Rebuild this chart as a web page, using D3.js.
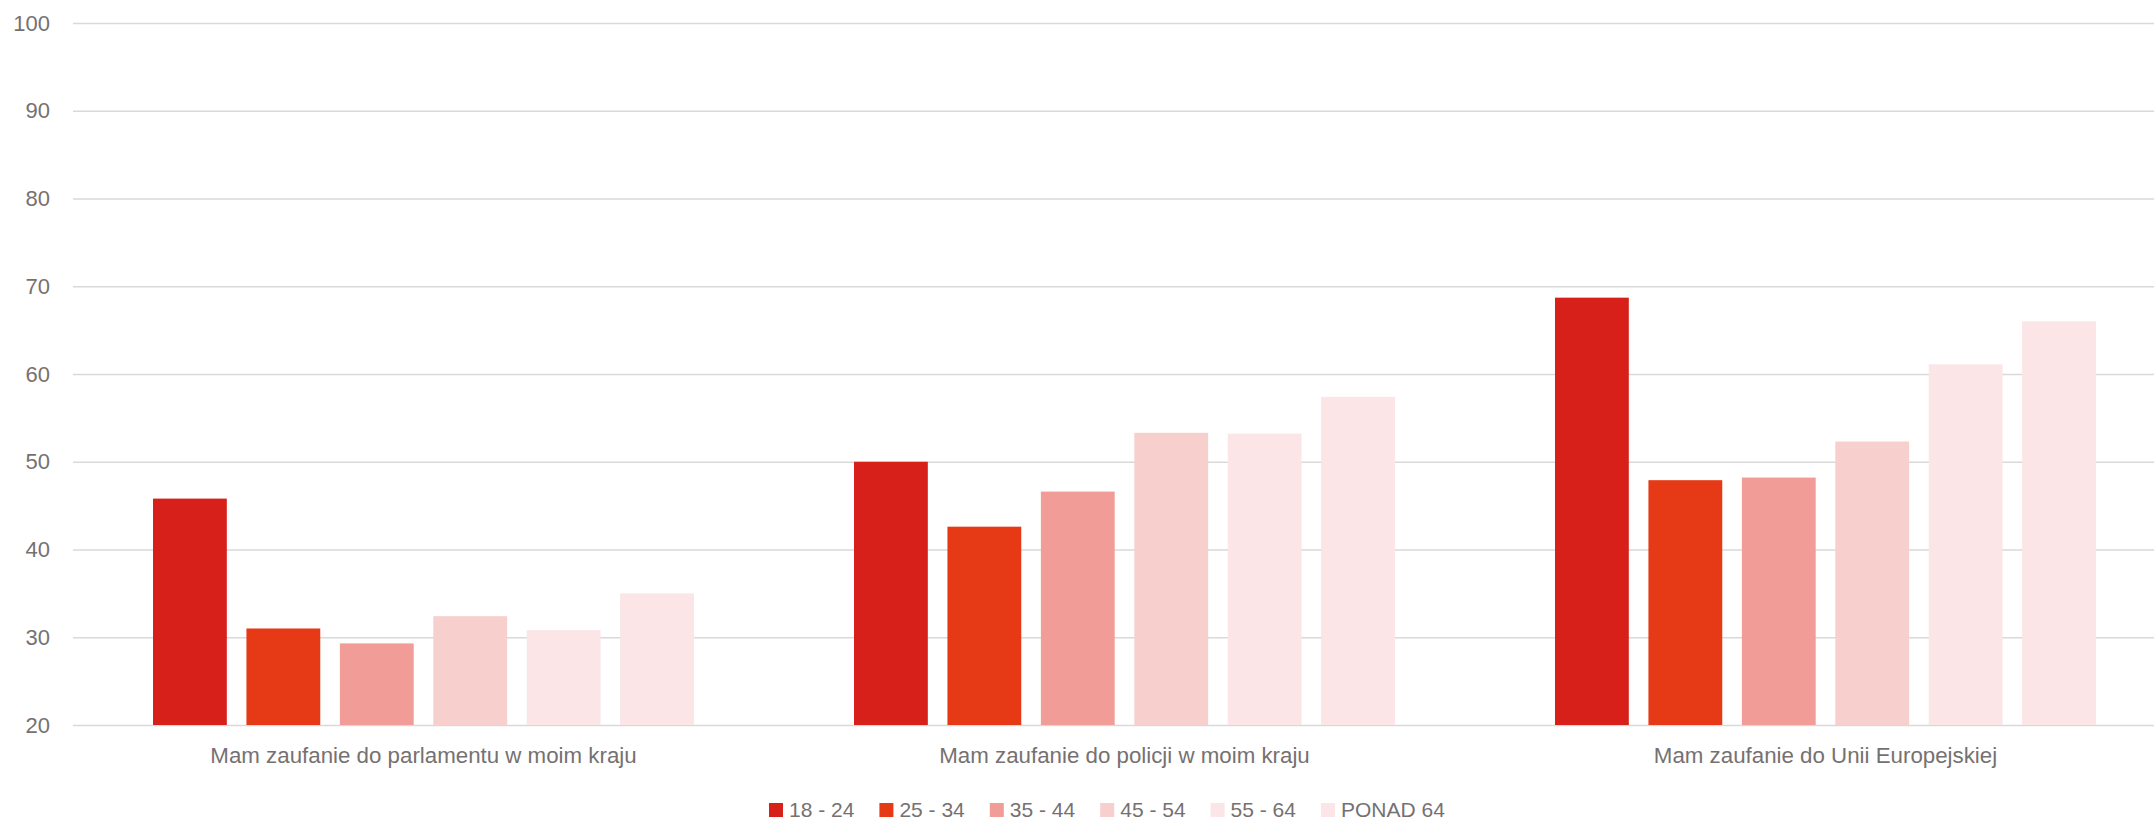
<!DOCTYPE html>
<html>
<head>
<meta charset="utf-8">
<script src="https://cdn.jsdelivr.net/npm/d3@7"></script>
<style>
  body { margin: 0; background: #fff; }
  text { font-family: "Liberation Sans", Arial, sans-serif; fill: #767171; }
</style>
</head>
<body>
<script>
var w = 2154;
var h = 821;

var categories = ["Mam zaufanie do parlamentu w moim kraju", "Mam zaufanie do policji w moim kraju", "Mam zaufanie do Unii Europejskiej"];
var seriesNames = ["18 - 24", "25 - 34", "35 - 44", "45 - 54", "55 - 64", "PONAD 64"];
var seriesColors = ["#d62019", "#e63a16", "#f29c97", "#f7cfcd", "#fbe5e6", "#fbe5e6"];

// one array per age group, values for the 3 categories
var v18_24 = [45.8, 50.0, 68.7];
var v25_34 = [31.0, 42.6, 47.9];
var v35_44 = [29.3, 46.6, 48.2];
var v45_54 = [32.4, 53.3, 52.3];
var v55_64 = [30.8, 53.2, 61.1];
var vPonad64 = [35.0, 57.4, 66.0];
var yTicks = [20, 30, 40, 50, 60, 70, 80, 90, 100];

var values = [v18_24, v25_34, v35_44, v45_54, v55_64, vPonad64];

var svg = d3.select("body").append("svg").attr("width", w).attr("height", h);

var x0 = d3.scaleBand()
            .domain(categories)
            .range([73, 2176])
            .padding(0);

var x1 = d3.scaleBand()
            .domain(d3.range(seriesNames.length))
            .range([80, x0.bandwidth() - 80])
            .paddingInner(0.21)
            .paddingOuter(0);

var yScale = d3.scaleLinear()
            .domain([20, 100])
            .range([725, 23]);

//gridlines + tick labels
var yAxis = d3.axisLeft(yScale)
            .tickValues(yTicks)
            .tickSize(-(w - 73))
            .tickPadding(23);

var gy = svg.append("g").attr("transform", "translate(73,0)").call(yAxis);
gy.select(".domain").remove();
gy.selectAll(".tick line").attr("stroke", "#d9d9d9").attr("stroke-width", 1.5);
gy.selectAll(".tick text").attr("font-size", "22px").attr("fill", "#767171");

//Drawing the bars
var groups = svg.selectAll("g.cat")
            .data(categories).enter()
            .append("g")
            .attr("class", "cat")
            .attr("transform", (d) => "translate(" + x0(d) + ",0)");

groups.selectAll("rect")
    .data((d, ci) => values.map((s, si) => ({ si: si, v: s[ci] })))
    .enter()
    .append("rect")
    .attr("x", (d) => x1(d.si))
    .attr("y", (d) => yScale(d.v))
    .attr("width", x1.bandwidth())
    .attr("height", (d) => yScale(20) - yScale(d.v))
    .attr("fill", (d) => seriesColors[d.si]);

//category labels
var xAxis = d3.axisBottom(x0).tickSize(0).tickPadding(22);
var gx = svg.append("g").attr("transform", "translate(0,725)").call(xAxis);
gx.select(".domain").remove();
gx.selectAll(".tick text").attr("font-size", "22.3px").attr("fill", "#767171");

//legend
var legend = svg.selectAll("g.legend")
    .data(seriesNames).enter()
    .append("g")
    .attr("class", "legend")
    .attr("transform", (d, i) => "translate(" + (769 + i * 110.4) + ",803)");

legend.append("rect")
    .attr("width", 14)
    .attr("height", 14)
    .attr("fill", (d, i) => seriesColors[i]);

legend.append("text")
    .attr("x", 20)
    .attr("y", 14)
    .attr("font-size", "21px")
    .text((d) => d);
</script>
</body>
</html>
